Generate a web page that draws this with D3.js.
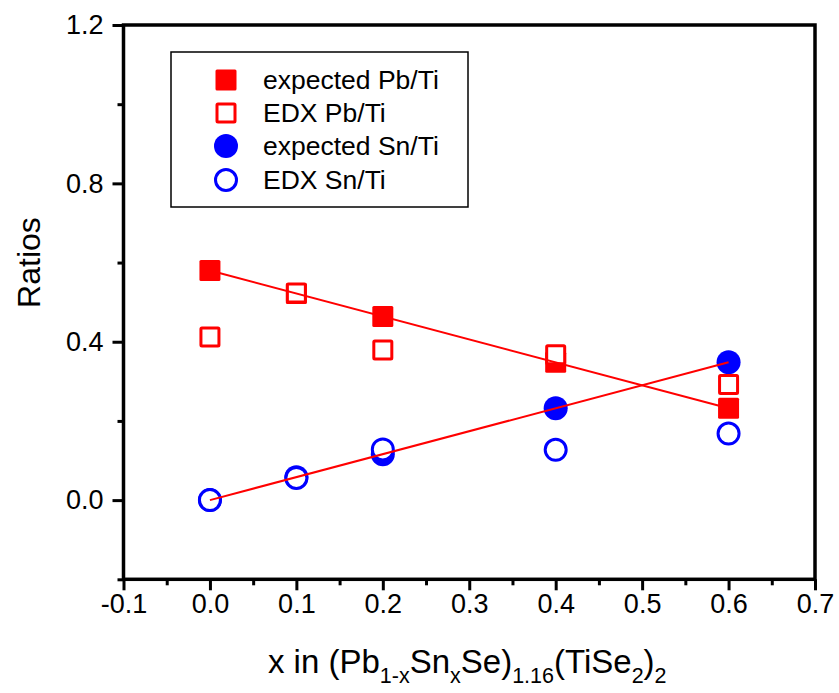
<!DOCTYPE html>
<html>
<head>
<meta charset="utf-8">
<script src="https://cdn.jsdelivr.net/npm/d3@7"></script>
<style>
  body { margin: 0; background: #fff; }
  text { font-family: "Liberation Sans", Arial, sans-serif; fill: #000; }
</style>
</head>
<body>
<div id="chart"></div>
<script>
// compositions x and the Pb/Ti, Sn/Ti ratios
var xVals = [0, 0.1, 0.2, 0.4, 0.6];
var expectedPb = [0.58, 0.522, 0.464, 0.348, 0.232];
var edxPb = [0.412, 0.523, 0.379, 0.367, 0.292];
var expectedSn = [0, 0.058, 0.116, 0.232, 0.348];
var edxSn = [0.0, 0.056, 0.128, 0.127, 0.168];

// linear fits (expected stoichiometry)
var fitX = [0, 0.6];
var fitPb = [0.58, 0.232];
var fitSn = [0, 0.348];

var xTicks = [-0.1, 0.0, 0.1, 0.2, 0.3, 0.4, 0.5, 0.6, 0.7];
var xMinor = [-0.05, 0.05, 0.15, 0.25, 0.35, 0.45, 0.55, 0.65];
var yTicks = [0.0, 0.4, 0.8, 1.2];
var yMinor = [-0.2, 0.2, 0.6, 1.0];

var legendItems = ["expected Pb/Ti", "EDX Pb/Ti", "expected Sn/Ti", "EDX Sn/Ti"];

(function () {
    var W = 839, H = 693;
    var margin = { top: 25, left: 123.5, right: 24, bottom: 113.7 },
        width = W - margin.left - margin.right,
        height = H - margin.top - margin.bottom;

    var svg = d3.select("#chart")
        .append("svg")
        .attr("width", W)
        .attr("height", H);

    var g = svg.append("g")
        .attr("transform", "translate(" + margin.left + "," + margin.top + ")");

    var x = d3.scaleLinear().domain([-0.1, 0.7]).range([0, width]);
    var y = d3.scaleLinear().domain([-0.2, 1.2]).range([height, 0]);
    var fmt = function (d) { return d3.format(".1f")(d).replace("\u2212", "-"); };

    // AXES
    g.append("g")
        .attr("transform", "translate(0," + height + ")")
        .call(d3.axisBottom(x).tickValues(xTicks).tickFormat(fmt).tickSize(11).tickSizeOuter(0).tickPadding(4));
    g.append("g")
        .attr("transform", "translate(0," + height + ")")
        .call(d3.axisBottom(x).tickValues(xMinor).tickFormat("").tickSize(6).tickSizeOuter(0));

    g.append("g")
        .call(d3.axisLeft(y).tickValues(yTicks).tickFormat(fmt).tickSize(11).tickSizeOuter(0).tickPadding(9));
    g.append("g")
        .call(d3.axisLeft(y).tickValues(yMinor).tickFormat("").tickSize(6).tickSizeOuter(0));

    g.selectAll(".domain").remove();
    g.selectAll(".tick line").attr("stroke", "#000").attr("stroke-width", 3);
    g.selectAll(".tick text").style("font-size", "27px").style("font-family", "'Liberation Sans', Arial, sans-serif");

    // frame
    g.append("rect")
        .attr("x", 0).attr("y", 0)
        .attr("width", width).attr("height", height)
        .attr("fill", "none")
        .attr("stroke", "#000")
        .attr("stroke-width", 3.5);

    // MARKERS
    var pts = function (ys) { return xVals.map(function (d, i) { return [d, ys[i]]; }); };

    g.selectAll(".expPb").data(pts(expectedPb)).enter().append("rect")
        .attr("x", function (d) { return x(d[0]) - 10.5; })
        .attr("y", function (d) { return y(d[1]) - 10.5; })
        .attr("width", 21).attr("height", 21).attr("rx", 1.5)
        .attr("fill", "#ff0000");

    g.selectAll(".expSn").data(pts(expectedSn)).enter().append("circle")
        .attr("cx", function (d) { return x(d[0]); })
        .attr("cy", function (d) { return y(d[1]); })
        .attr("r", 12)
        .attr("fill", "#0000ff");

    g.selectAll(".edxPb").data(pts(edxPb)).enter().append("rect")
        .attr("x", function (d) { return x(d[0]) - 9; })
        .attr("y", function (d) { return y(d[1]) - 9; })
        .attr("width", 18).attr("height", 18).attr("rx", 1)
        .attr("fill", "#fff").attr("stroke", "#ff0000").attr("stroke-width", 3);

    g.selectAll(".edxSn").data(pts(edxSn)).enter().append("circle")
        .attr("cx", function (d) { return x(d[0]); })
        .attr("cy", function (d) { return y(d[1]); })
        .attr("r", 10.5)
        .attr("fill", "#fff").attr("stroke", "#0000ff").attr("stroke-width", 3);

    // FIT LINES
    var line = d3.line().x(function (d) { return x(d[0]); }).y(function (d) { return y(d[1]); });
    [fitPb, fitSn].forEach(function (f) {
        g.append("path")
            .datum(fitX.map(function (d, i) { return [d, f[i]]; }))
            .attr("d", line)
            .attr("fill", "none")
            .attr("stroke", "#ff0000")
            .attr("stroke-width", 2);
    });

    // LEGEND
    var lg = svg.append("g").attr("transform", "translate(171,52)");
    lg.append("rect")
        .attr("width", 297).attr("height", 155)
        .attr("fill", "#fff").attr("stroke", "#000").attr("stroke-width", 1.5);

    var rows = [28, 61, 94, 128];
    legendItems.forEach(function (label, i) {
        var cy = rows[i], cx = 55;
        if (i === 0) {
            lg.append("rect").attr("x", cx - 10.5).attr("y", cy - 10.5).attr("width", 21).attr("height", 21).attr("rx", 1.5).attr("fill", "#ff0000");
        } else if (i === 1) {
            lg.append("rect").attr("x", cx - 9).attr("y", cy - 9).attr("width", 18).attr("height", 18).attr("rx", 1)
                .attr("fill", "#fff").attr("stroke", "#ff0000").attr("stroke-width", 3);
        } else if (i === 2) {
            lg.append("circle").attr("cx", cx).attr("cy", cy).attr("r", 12).attr("fill", "#0000ff");
        } else {
            lg.append("circle").attr("cx", cx).attr("cy", cy).attr("r", 10.5)
                .attr("fill", "#fff").attr("stroke", "#0000ff").attr("stroke-width", 3);
        }
        lg.append("text")
            .attr("x", 92).attr("y", cy).attr("dy", "0.35em")
            .style("font-size", "26.5px")
            .text(label);
    });

    // AXIS TITLES
    svg.append("text")
        .attr("transform", "translate(40," + (margin.top + y(0.6)) + ") rotate(-90)")
        .attr("text-anchor", "middle")
        .style("font-size", "32px")
        .text("Ratios");

    var xt = svg.append("text")
        .attr("x", margin.left + width / 2 - 2)
        .attr("y", 673)
        .attr("text-anchor", "middle")
        .style("font-size", "33px");
    var parts = [
        ["x in (Pb", 0], ["1-x", 1], ["Sn", 0], ["x", 1], ["Se)", 0],
        ["1.16", 1], ["(TiSe", 0], ["2", 1], [")", 0], ["2", 1]
    ];
    var prevSub = false;
    parts.forEach(function (p) {
        var ts = xt.append("tspan").text(p[0]);
        if (p[1] && !prevSub) ts.attr("dy", 10).style("font-size", "21.5px");
        else if (p[1]) ts.style("font-size", "21.5px");
        else if (prevSub) ts.attr("dy", -10);
        prevSub = !!p[1];
    });
})()
</script>
</body>
</html>
